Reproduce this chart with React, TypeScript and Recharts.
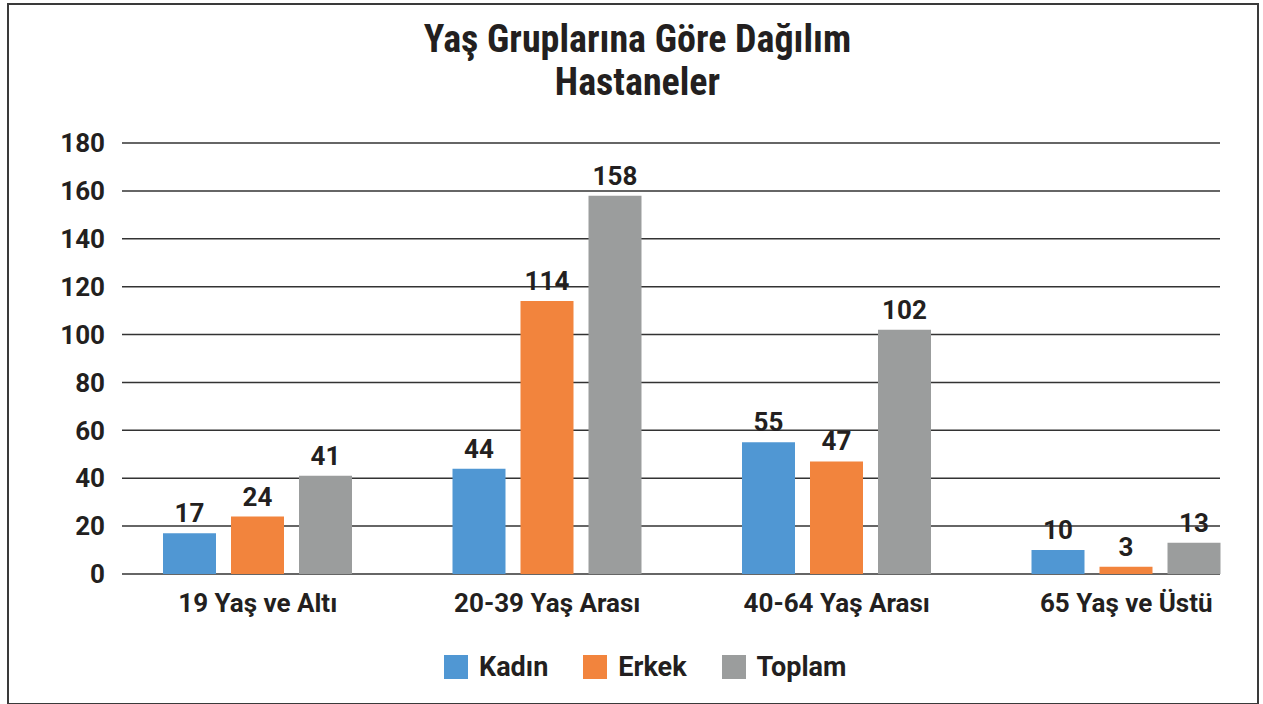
import React from "react";
import { BarChart, Bar, XAxis, YAxis, CartesianGrid, LabelList } from "recharts";

const categories = ["19 Yaş ve Altı", "20-39 Yaş Arası", "40-64 Yaş Arası", "65 Yaş ve Üstü"];
const kadin = [17, 44, 55, 10];
const erkek = [24, 114, 47, 3];
const toplam = [41, 158, 102, 13];
const yTicks = [0, 20, 40, 60, 80, 100, 120, 140, 160, 180];

const BLUE = "#5097D3";
const ORANGE = "#F2843D";
const GRAY = "#9B9D9D";
const TEXT = "#231f20";
const FONT = "Roboto, 'Liberation Sans', sans-serif";

const data = categories.map((name, i) => ({
  name,
  kadin: kadin[i],
  erkek: erkek[i],
  toplam: toplam[i],
}));

const legendItems = [
  { label: "Kadın", color: BLUE },
  { label: "Erkek", color: ORANGE },
  { label: "Toplam", color: GRAY },
];

const labelStyle = { fill: TEXT, fontSize: 26, fontWeight: 700, fontFamily: FONT };

export default function App() {
  return (
    <div style={{ position: "fixed", left: 0, top: 0, width: 1263, height: 704, background: "#fff", fontFamily: FONT }}>
      <div
        style={{
          position: "absolute",
          left: 7,
          top: 3,
          width: 1248,
          height: 698,
          border: "2px solid #3a3a3a",
        }}
      />
      <div
        style={{
          position: "absolute",
          left: 0,
          top: 18,
          width: 1275,
          textAlign: "center",
          fontFamily: "'Liberation Sans Narrow', 'Roboto Condensed', Roboto, sans-serif",
          fontWeight: 700,
          fontSize: 38,
          lineHeight: "43px",
          color: TEXT,
        }}
      >
        <div>Yaş Gruplarına Göre Dağılım</div>
        <div>Hastaneler</div>
      </div>

      <div style={{ position: "absolute", left: 0, top: 0 }}>
        <BarChart
          width={1263}
          height={704}
          data={data}
          margin={{ top: 143, right: 43, bottom: 70, left: 0 }}
          barCategoryGap={50}
          barGap={15}
        >
          <CartesianGrid vertical={false} stroke="#333" strokeWidth={1.5} />
          <XAxis
            dataKey="name"
            axisLine={false}
            tickLine={false}
            height={60}
            tickSize={0}
            tickMargin={20}
            padding={{ left: -9, right: -51 }}
            tick={{ fill: TEXT, fontSize: 26, fontWeight: 700, fontFamily: FONT }}
          />
          <YAxis
            width={122}
            domain={[0, 180]}
            ticks={yTicks}
            axisLine={false}
            tickLine={false}
            tickSize={0}
            tickMargin={17}
            tick={{ fill: TEXT, fontSize: 26, fontWeight: 700, fontFamily: FONT }}
          />
          <Bar dataKey="kadin" fill={BLUE} isAnimationActive={false}>
            <LabelList dataKey="kadin" position="top" offset={11} style={labelStyle} />
          </Bar>
          <Bar dataKey="erkek" fill={ORANGE} isAnimationActive={false}>
            <LabelList dataKey="erkek" position="top" offset={11} style={labelStyle} />
          </Bar>
          <Bar dataKey="toplam" fill={GRAY} isAnimationActive={false}>
            <LabelList dataKey="toplam" position="top" offset={11} style={labelStyle} />
          </Bar>
        </BarChart>
      </div>

      <div
        style={{
          position: "absolute",
          left: 444,
          top: 653,
          display: "flex",
          gap: 35,
        }}
      >
        {legendItems.map((it) => (
          <div key={it.label} style={{ display: "flex", alignItems: "center", gap: 11 }}>
            <span style={{ width: 24, height: 24, background: it.color, display: "inline-block" }} />
            <span style={{ fontSize: 27, fontWeight: 700, color: TEXT, lineHeight: "28px" }}>{it.label}</span>
          </div>
        ))}
      </div>
    </div>
  );
}
